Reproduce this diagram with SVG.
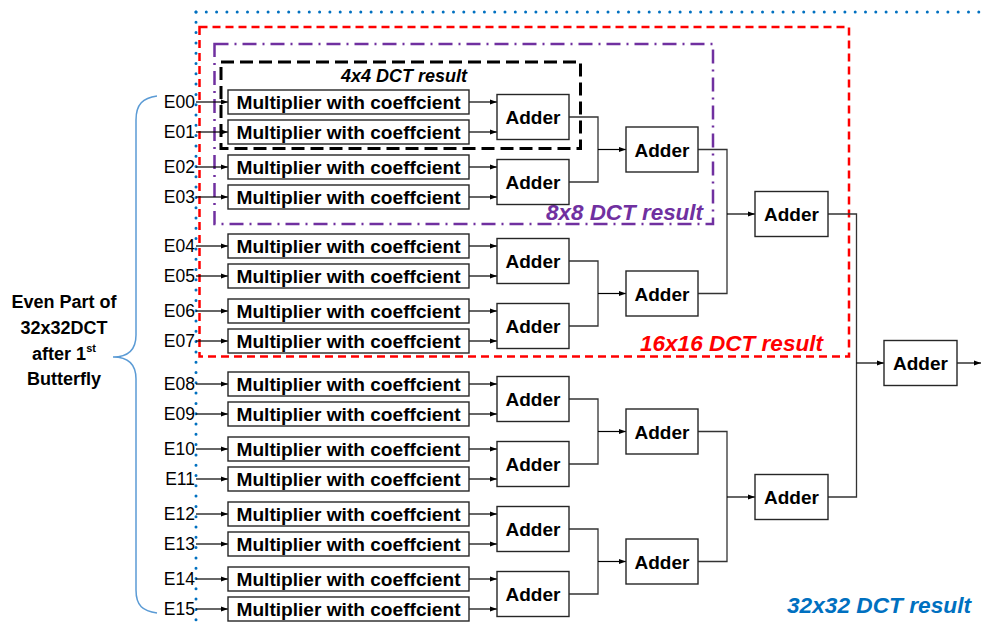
<svg xmlns="http://www.w3.org/2000/svg" width="981" height="623" viewBox="0 0 981 623">
<style>
.box{fill:#fff;stroke:#262626;stroke-width:1.4}
.mt{font-family:"Liberation Sans",Arial,sans-serif;font-weight:bold;font-size:19px;fill:#000;text-anchor:middle}
.at{font-family:"Liberation Sans",Arial,sans-serif;font-weight:bold;font-size:19px;fill:#000;text-anchor:middle}
.el{font-family:"Liberation Sans",Arial,sans-serif;font-size:17.5px;fill:#000;text-anchor:end}
.lt{font-family:"Liberation Sans",Arial,sans-serif;font-weight:bold;font-size:18px;fill:#000;text-anchor:middle}
.rl{font-family:"Liberation Sans",Arial,sans-serif;font-weight:bold;font-style:italic}
.wire{fill:none;stroke:#333;stroke-width:1.3}
.arr{fill:none;stroke:#000;stroke-width:1.2;marker-end:url(#ah)}
</style>
<defs>
<marker id="ah" markerUnits="userSpaceOnUse" markerWidth="7" markerHeight="6" refX="7" refY="3" orient="auto">
<path d="M0,0.5 L7,3 L0,5.5 Z" fill="#000"/>
</marker>
</defs>

<!-- region outlines -->
<g id="region32" fill="none">
<path d="M196,12 H981" stroke="#0070C0" stroke-width="3" stroke-linecap="round" stroke-dasharray="0 10.3"/>
<path d="M196,12 V623" stroke="#0070C0" stroke-width="3" stroke-linecap="round" stroke-dasharray="0 10.3"/>
<text class="rl" x="787" y="613" font-size="22.5" fill="#0070C0" textLength="184" lengthAdjust="spacingAndGlyphs">32x32 DCT result</text>
</g>
<g id="region16">
<rect x="199.5" y="27" width="649.5" height="329.5" fill="none" stroke="#FF0000" stroke-width="2.5" stroke-dasharray="8 5"/>
<text class="rl" x="640" y="351" font-size="22.5" fill="#FF0000" textLength="183" lengthAdjust="spacingAndGlyphs">16x16 DCT result</text>
</g>
<g id="region8">
<rect x="214.5" y="44" width="498.5" height="180" fill="none" stroke="#7030A0" stroke-width="2.5" stroke-dasharray="14 6 2 6"/>
<text class="rl" x="546" y="220" font-size="22.5" fill="#7030A0" textLength="157" lengthAdjust="spacingAndGlyphs">8x8 DCT result</text>
</g>
<g id="region4">
<rect x="221" y="62" width="359.5" height="86.5" fill="none" stroke="#000" stroke-width="3" stroke-dasharray="13 6"/>
<text class="rl" x="341" y="82" font-size="18" fill="#000" textLength="126" lengthAdjust="spacingAndGlyphs">4x4 DCT result</text>
</g>

<!-- brace and left label -->
<g id="brace">
<path d="M157,96 C143,98 136,104 136,120 L136,335 C136,350 128,357 113,357 C128,357 136,364 136,379 L136,590 C136,606 143,611 157,613" fill="none" stroke="#5B9BD5" stroke-width="1.5"/>
</g>
<g id="source-label">
<text class="lt" x="64" y="308">Even Part of</text>
<text class="lt" x="64" y="334">32x32DCT</text>
<text class="lt" x="64" y="360">after 1<tspan font-size="11" dy="-8">st</tspan></text>
<text class="lt" x="64" y="385">Butterfly</text>
</g>

<!-- connectors -->
<g id="connectors">
<!-- inputs -->
<path class="arr" d="M196,102 H228"/><path class="arr" d="M196,132 H228"/>
<path class="arr" d="M196,167 H228"/><path class="arr" d="M196,197 H228"/>
<path class="arr" d="M196,246 H228"/><path class="arr" d="M196,276 H228"/>
<path class="arr" d="M196,311 H228"/><path class="arr" d="M196,341 H228"/>
<path class="arr" d="M196,384 H228"/><path class="arr" d="M196,414 H228"/>
<path class="arr" d="M196,449 H228"/><path class="arr" d="M196,479 H228"/>
<path class="arr" d="M196,514 H228"/><path class="arr" d="M196,544 H228"/>
<path class="arr" d="M196,579 H228"/><path class="arr" d="M196,609 H228"/>
<!-- multipliers to adders -->
<path class="arr" d="M469,102 H497"/><path class="arr" d="M469,132 H497"/>
<path class="arr" d="M469,167 H497"/><path class="arr" d="M469,197 H497"/>
<path class="arr" d="M469,246 H497"/><path class="arr" d="M469,276 H497"/>
<path class="arr" d="M469,311 H497"/><path class="arr" d="M469,341 H497"/>
<path class="arr" d="M469,384 H497"/><path class="arr" d="M469,414 H497"/>
<path class="arr" d="M469,449 H497"/><path class="arr" d="M469,479 H497"/>
<path class="arr" d="M469,514 H497"/><path class="arr" d="M469,544 H497"/>
<path class="arr" d="M469,579 H497"/><path class="arr" d="M469,609 H497"/>
<!-- level 1 to level 2 -->
<path class="wire" d="M569,117 H598 V182 H569"/><path class="arr" d="M598,149.5 H626"/>
<path class="wire" d="M569,261 H598 V326 H569"/><path class="arr" d="M598,293.5 H626"/>
<path class="wire" d="M569,399 H598 V464 H569"/><path class="arr" d="M598,431.5 H626"/>
<path class="wire" d="M569,529 H598 V594 H569"/><path class="arr" d="M598,561.5 H626"/>
<!-- level 2 to level 3 -->
<path class="wire" d="M698,149.5 H727 V293.5 H698"/><path class="arr" d="M727,214 H755"/>
<path class="wire" d="M698,431.5 H727 V561.5 H698"/><path class="arr" d="M727,497 H755"/>
<!-- level 3 to level 4 -->
<path class="wire" d="M828,214 H856.5 V497 H828"/><path class="arr" d="M856.5,363 H884"/>
<!-- output -->
<path class="arr" d="M957,363 H981"/>
</g>

<!-- input labels -->
<g id="inputs">
<text class="el" x="195" y="108">E00</text><text class="el" x="195" y="138">E01</text>
<text class="el" x="195" y="173">E02</text><text class="el" x="195" y="203">E03</text>
<text class="el" x="195" y="252">E04</text><text class="el" x="195" y="282">E05</text>
<text class="el" x="195" y="317">E06</text><text class="el" x="195" y="347">E07</text>
<text class="el" x="195" y="390">E08</text><text class="el" x="195" y="420">E09</text>
<text class="el" x="195" y="455">E10</text><text class="el" x="195" y="485">E11</text>
<text class="el" x="195" y="520">E12</text><text class="el" x="195" y="550">E13</text>
<text class="el" x="195" y="585">E14</text><text class="el" x="195" y="615">E15</text>
</g>

<!-- multipliers -->
<g id="mul00"><rect class="box" x="228" y="90" width="241" height="24"/><text class="mt" x="348.5" y="108.5" textLength="224" lengthAdjust="spacingAndGlyphs">Multiplier with coeffcient</text></g>
<g id="mul01"><rect class="box" x="228" y="120" width="241" height="24"/><text class="mt" x="348.5" y="138.5" textLength="224" lengthAdjust="spacingAndGlyphs">Multiplier with coeffcient</text></g>
<g id="mul02"><rect class="box" x="228" y="155" width="241" height="24"/><text class="mt" x="348.5" y="173.5" textLength="224" lengthAdjust="spacingAndGlyphs">Multiplier with coeffcient</text></g>
<g id="mul03"><rect class="box" x="228" y="185" width="241" height="24"/><text class="mt" x="348.5" y="203.5" textLength="224" lengthAdjust="spacingAndGlyphs">Multiplier with coeffcient</text></g>
<g id="mul04"><rect class="box" x="228" y="234" width="241" height="24"/><text class="mt" x="348.5" y="252.5" textLength="224" lengthAdjust="spacingAndGlyphs">Multiplier with coeffcient</text></g>
<g id="mul05"><rect class="box" x="228" y="264" width="241" height="24"/><text class="mt" x="348.5" y="282.5" textLength="224" lengthAdjust="spacingAndGlyphs">Multiplier with coeffcient</text></g>
<g id="mul06"><rect class="box" x="228" y="299" width="241" height="24"/><text class="mt" x="348.5" y="317.5" textLength="224" lengthAdjust="spacingAndGlyphs">Multiplier with coeffcient</text></g>
<g id="mul07"><rect class="box" x="228" y="329" width="241" height="24"/><text class="mt" x="348.5" y="347.5" textLength="224" lengthAdjust="spacingAndGlyphs">Multiplier with coeffcient</text></g>
<g id="mul08"><rect class="box" x="228" y="372" width="241" height="24"/><text class="mt" x="348.5" y="390.5" textLength="224" lengthAdjust="spacingAndGlyphs">Multiplier with coeffcient</text></g>
<g id="mul09"><rect class="box" x="228" y="402" width="241" height="24"/><text class="mt" x="348.5" y="420.5" textLength="224" lengthAdjust="spacingAndGlyphs">Multiplier with coeffcient</text></g>
<g id="mul10"><rect class="box" x="228" y="437" width="241" height="24"/><text class="mt" x="348.5" y="455.5" textLength="224" lengthAdjust="spacingAndGlyphs">Multiplier with coeffcient</text></g>
<g id="mul11"><rect class="box" x="228" y="467" width="241" height="24"/><text class="mt" x="348.5" y="485.5" textLength="224" lengthAdjust="spacingAndGlyphs">Multiplier with coeffcient</text></g>
<g id="mul12"><rect class="box" x="228" y="502" width="241" height="24"/><text class="mt" x="348.5" y="520.5" textLength="224" lengthAdjust="spacingAndGlyphs">Multiplier with coeffcient</text></g>
<g id="mul13"><rect class="box" x="228" y="532" width="241" height="24"/><text class="mt" x="348.5" y="550.5" textLength="224" lengthAdjust="spacingAndGlyphs">Multiplier with coeffcient</text></g>
<g id="mul14"><rect class="box" x="228" y="567" width="241" height="24"/><text class="mt" x="348.5" y="585.5" textLength="224" lengthAdjust="spacingAndGlyphs">Multiplier with coeffcient</text></g>
<g id="mul15"><rect class="box" x="228" y="597" width="241" height="24"/><text class="mt" x="348.5" y="615.5" textLength="224" lengthAdjust="spacingAndGlyphs">Multiplier with coeffcient</text></g>

<!-- level 1 adders -->
<g id="add1_0"><rect class="box" x="497" y="94.5" width="72" height="45"/><text class="at" x="533" y="124">Adder</text></g>
<g id="add1_1"><rect class="box" x="497" y="159.5" width="72" height="45"/><text class="at" x="533" y="189">Adder</text></g>
<g id="add1_2"><rect class="box" x="497" y="238.5" width="72" height="45"/><text class="at" x="533" y="268">Adder</text></g>
<g id="add1_3"><rect class="box" x="497" y="303.5" width="72" height="45"/><text class="at" x="533" y="333">Adder</text></g>
<g id="add1_4"><rect class="box" x="497" y="376.5" width="72" height="45"/><text class="at" x="533" y="406">Adder</text></g>
<g id="add1_5"><rect class="box" x="497" y="441.5" width="72" height="45"/><text class="at" x="533" y="471">Adder</text></g>
<g id="add1_6"><rect class="box" x="497" y="506.5" width="72" height="45"/><text class="at" x="533" y="536">Adder</text></g>
<g id="add1_7"><rect class="box" x="497" y="571.5" width="72" height="45"/><text class="at" x="533" y="601">Adder</text></g>

<!-- level 2 adders -->
<g id="add2_0"><rect class="box" x="626" y="127" width="72" height="45"/><text class="at" x="662" y="156.5">Adder</text></g>
<g id="add2_1"><rect class="box" x="626" y="271" width="72" height="45"/><text class="at" x="662" y="300.5">Adder</text></g>
<g id="add2_2"><rect class="box" x="626" y="409" width="72" height="45"/><text class="at" x="662" y="438.5">Adder</text></g>
<g id="add2_3"><rect class="box" x="626" y="539" width="72" height="45"/><text class="at" x="662" y="568.5">Adder</text></g>

<!-- level 3 adders -->
<g id="add3_0"><rect class="box" x="755" y="191.5" width="73" height="45"/><text class="at" x="791.5" y="221">Adder</text></g>
<g id="add3_1"><rect class="box" x="755" y="474.5" width="73" height="45"/><text class="at" x="791.5" y="504">Adder</text></g>

<!-- level 4 adder -->
<g id="add4"><rect class="box" x="884" y="340.5" width="73" height="45"/><text class="at" x="920.5" y="370">Adder</text></g>
</svg>
